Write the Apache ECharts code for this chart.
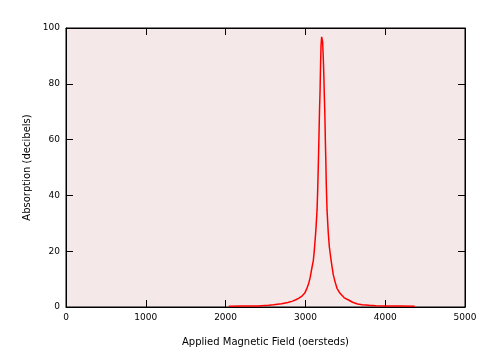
<!DOCTYPE html>
<html>
<head>
<meta charset="utf-8">
<script src="https://cdn.jsdelivr.net/npm/echarts@6/dist/echarts.min.js"></script>
<style>
  html, body { margin: 0; padding: 0; background: #fff; }
  #chart { width: 496px; height: 361px; }
</style>
</head>
<body>
<div id="chart"></div>
<script>
    // field in oersteds, absorption in decibels
    var field = [2040, 2200, 2400, 2540, 2600, 2700, 2780, 2840, 2880, 2920,
                 2960, 2990, 3015, 3040, 3060, 3080, 3100, 3112, 3125, 3134,
                 3146, 3154, 3162, 3169, 3177, 3184, 3190, 3196, 3204, 3210,
                 3216, 3225, 3231, 3237, 3244, 3250, 3256, 3262, 3271, 3287,
                 3300, 3316, 3334, 3350, 3371, 3396, 3434, 3487, 3541, 3591,
                 3654, 3712, 3800, 3884, 4000, 4200, 4370];
    var absorption = [0.3, 0.35, 0.4, 0.6, 0.8, 1.2, 1.6, 2.1, 2.6, 3.2,
                      4.0, 4.9, 6.4, 8.3, 10.6, 13.8, 16.8, 20.4, 25.2, 28.8,
                      34.8, 41.9, 50.9, 59.9, 70.6, 77.8, 86.7, 93.9, 96.8, 96.4,
                      95.0, 88.5, 83.2, 76.0, 68.8, 59.9, 52.7, 43.7, 34.8, 26.4,
                      21.6, 18.0, 14.4, 11.5, 9.1, 6.7, 4.9, 3.3, 2.5, 1.7,
                      1.1, 0.8, 0.6, 0.45, 0.4, 0.35, 0.3];

    var pts = field.map(function (x, i) { return [x, absorption[i]]; });

    var font = 'DejaVu Sans';
    function tick() {
        return { show: true, inside: true, length: 7, lineStyle: { color: '#000', width: 1 } };
    }
    function line() {
        return { show: true, onZero: false, lineStyle: { color: '#000' } };
    }
    var myChart = echarts.init(document.getElementById('chart'));
    myChart.setOption({
        animation: false,
        backgroundColor: '#ffffff',
        grid: {
            left: 66, right: 31, top: 28, bottom: 54,
            show: true,
            backgroundColor: '#f4e8e8',
            borderColor: '#000',
            borderWidth: 1
        },
        xAxis: [
            {
                type: 'value', min: 0, max: 5000, interval: 1000,
                name: 'Applied Magnetic Field (oersteds)',
                nameLocation: 'middle', nameGap: 30,
                nameTextStyle: { color: '#000', fontFamily: font, fontSize: 10 },
                axisLine: line(),
                axisTick: tick(),
                axisLabel: { color: '#000', fontFamily: font, fontSize: 9, margin: 6,
                             formatter: function (v) { return String(v); } },
                splitLine: { show: false }
            },
            {
                type: 'value', min: 0, max: 5000, interval: 1000, position: 'top',
                axisLine: line(),
                axisTick: tick(),
                axisLabel: { show: false },
                splitLine: { show: false }
            }
        ],
        yAxis: [
            {
                type: 'value', min: 0, max: 100, interval: 20,
                name: 'Absorption (decibels)',
                nameLocation: 'middle', nameGap: 34,
                nameTextStyle: { color: '#000', fontFamily: font, fontSize: 10 },
                axisLine: line(),
                axisTick: tick(),
                axisLabel: { color: '#000', fontFamily: font, fontSize: 9, margin: 6 },
                splitLine: { show: false }
            },
            {
                type: 'value', min: 0, max: 100, interval: 20, position: 'right',
                axisLine: line(),
                axisTick: tick(),
                axisLabel: { show: false },
                splitLine: { show: false }
            }
        ],
        series: [
            {
                name: 'absorption',
                type: 'line',
                data: pts,
                showSymbol: false,
                lineStyle: { color: '#ff0000', width: 1.5 }
            }
        ]
    });
</script>
</body>
</html>
